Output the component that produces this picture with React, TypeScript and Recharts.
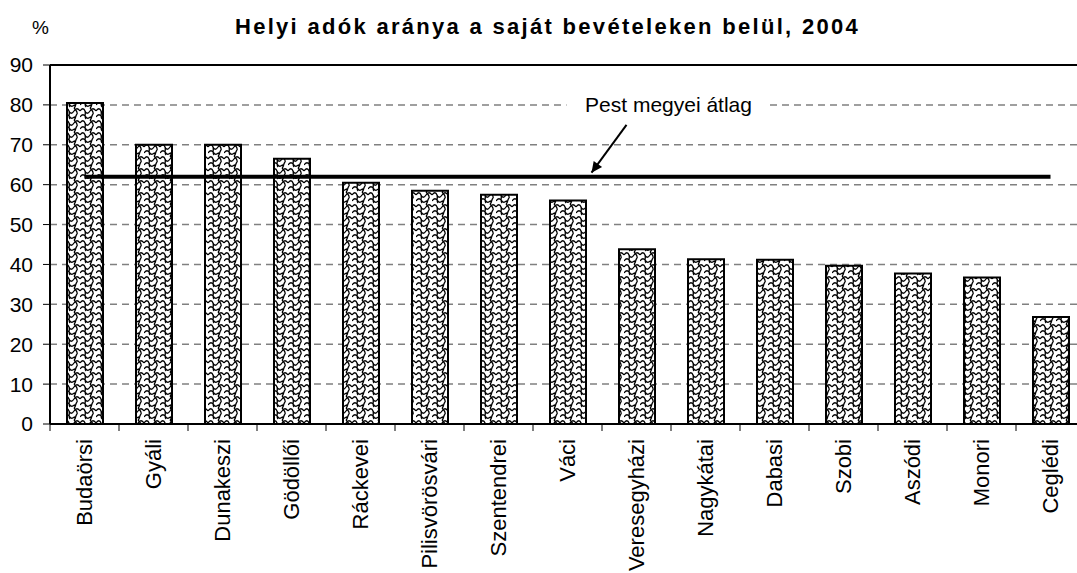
import {
  Bar,
  CartesianGrid,
  ComposedChart,
  Line,
  ReferenceLine,
  XAxis,
  YAxis,
} from "recharts";

const categories = [
  "Budaörsi",
  "Gyáli",
  "Dunakeszi",
  "Gödöllői",
  "Ráckevei",
  "Pilisvörösvári",
  "Szentendrei",
  "Váci",
  "Veresegyházi",
  "Nagykátai",
  "Dabasi",
  "Szobi",
  "Aszódi",
  "Monori",
  "Ceglédi",
];

const shares = [80.5, 70, 70, 66.5, 60.5, 58.5, 57.5, 56, 43.8, 41.3, 41.2, 39.7, 37.7, 36.7, 26.8];
const countyAverage = 62;
const yTicks = [0, 10, 20, 30, 40, 50, 60, 70, 80, 90];

const FONT = "'Liberation Sans', Arial, sans-serif";
const CHART_W = 1090;
const CHART_H = 573;
const PLOT_W = 1035;
const band = PLOT_W / categories.length;

const data = categories.map((name, i) => ({
  name,
  share: shares[i],
  avg: countyAverage,
}));

function CategoryTick(props: any) {
  const { x, y, payload } = props;
  const bx = x - band / 2;
  return (
    <g>
      <line x1={bx} y1={y} x2={bx} y2={y + 7} stroke="#000" strokeWidth={1} />
      <text
        x={x}
        y={y + 15}
        dy="0.35em"
        transform={`rotate(-90, ${x}, ${y + 15})`}
        textAnchor="end"
        fontSize={22}
        fontFamily={FONT}
        fill="#000"
      >
        {payload.value}
      </text>
    </g>
  );
}

// arrow + label for the county average, anchored between two categories
function AverageNote(props: any) {
  const { x1, y1, x2, y2 } = props;
  const sx = x1 - 10;
  const ex = x2 + 24;
  const ang = Math.atan2(y2 - y1, ex - sx);
  const hl = 12;
  const hw = 0.45;
  const p1 = [ex - hl * Math.cos(ang - hw), y2 - hl * Math.sin(ang - hw)];
  const p2 = [ex - hl * Math.cos(ang + hw), y2 - hl * Math.sin(ang + hw)];
  return (
    <g>
      <rect x={x1 - 70} y={y1 - 32} width={202} height={26} fill="#fff" />
      <text
        x={x1 + 32}
        y={y1 - 13}
        textAnchor="middle"
        fontSize={21}
        fontFamily={FONT}
        fill="#000"
      >
        Pest megyei átlag
      </text>
      <line x1={sx} y1={y1} x2={ex} y2={y2} stroke="#000" strokeWidth={2} />
      <polygon points={`${ex},${y2} ${p1[0]},${p1[1]} ${p2[0]},${p2[1]}`} fill="#000" />
    </g>
  );
}

export default function App() {
  return (
    <div
      style={{
        position: "fixed",
        left: 0,
        top: 0,
        width: 1077,
        height: 573,
        overflow: "hidden",
        background: "#fff",
      }}
    >
      <div
        style={{
          position: "absolute",
          left: 0,
          top: 14,
          width: 1077,
          textAlign: "center",
          fontFamily: FONT,
          fontWeight: "bold",
          fontSize: 22,
          letterSpacing: 2.3,
          paddingLeft: 18,
          boxSizing: "border-box",
        }}
      >
        Helyi adók aránya a saját bevételeken belül, 2004
      </div>
      <div
        style={{
          position: "absolute",
          left: 32,
          top: 17,
          fontFamily: FONT,
          fontSize: 19,
        }}
      >
        %
      </div>
      <ComposedChart
        width={CHART_W}
        height={CHART_H}
        data={data}
        margin={{ top: 65, right: 5, left: 8, bottom: 0 }}
        barCategoryGap={0}
      >
        <defs>
          <pattern id="weave" width="16" height="12" patternUnits="userSpaceOnUse">
            <rect width="16" height="12" fill="#fff" />
            <path
              d="M0 3 C2 0 4 0 5 3 S8 6 10 3 M5 3 C6 6 4 9 6 11 M10 3 C12 0 14 0 16 3 M0 9 C2 6 4 6 6 9 M13 6 C11 8 12 11 10 12 M10 0 C12 2 14 4 13 6 M6 9 C8 12 9 9 11 9"
              stroke="#000"
              strokeWidth={1.3}
              fill="none"
            />
          </pattern>
        </defs>
        <CartesianGrid
          vertical={false}
          stroke="#808080"
          strokeDasharray="7 5"
          strokeWidth={1.5}
        />
        <ReferenceLine y={90} stroke="#000" strokeWidth={2} />
        <XAxis
          dataKey="name"
          interval={0}
          height={149}
          tickLine={false}
          tickSize={0}
          tickMargin={0}
          axisLine={{ stroke: "#000", strokeWidth: 2 }}
          tick={<CategoryTick />}
        />
        <YAxis
          width={42}
          domain={[0, 90]}
          ticks={yTicks}
          interval={0}
          tickSize={7}
          tickMargin={10}
          axisLine={{ stroke: "#000", strokeWidth: 2 }}
          tickLine={{ stroke: "#000" }}
          tick={{ fontSize: 21, fontFamily: FONT, fill: "#000" }}
        />
        <Bar
          dataKey="share"
          barSize={36}
          fill="url(#weave)"
          stroke="#000"
          strokeWidth={2}
          isAnimationActive={false}
        />
        <Line
          dataKey="avg"
          type="linear"
          stroke="#000"
          strokeWidth={4}
          dot={false}
          activeDot={false}
          isAnimationActive={false}
        />
        <ReferenceLine
          segment={[
            { x: "Veresegyházi", y: 75 },
            { x: "Váci", y: 63 },
          ]}
          shape={<AverageNote />}
        />
      </ComposedChart>
    </div>
  );
}
